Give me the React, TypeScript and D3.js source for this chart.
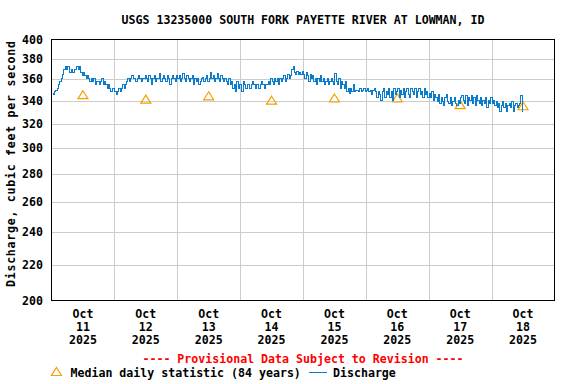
import React, { useEffect } from "react";
import * as d3 from "d3";

const TITLE = "USGS 13235000 SOUTH FORK PAYETTE RIVER AT LOWMAN, ID";
const Y_LABEL = "Discharge, cubic feet per second";
const PROVISIONAL = "---- Provisional Data Subject to Revision ----";
const LEGEND_MEDIAN = "Median daily statistic (84 years)";
const LEGEND_Q = "Discharge";

const yTicks = [200, 220, 240, 260, 280, 300, 320, 340, 360, 380, 400];
const dayLabels = ["11", "12", "13", "14", "15", "16", "17", "18"];
const medianValues = [345, 341, 344, 340, 342, 342, 336, 335];

// Discharge, 30-minute values, starting at midnight each day
const qOct11 = [347, 346, 349, 350, 352, 355, 358, 361, 365, 370, 373, 370, 373, 367, 367, 370, 367, 370, 370, 373, 370, 373, 367, 364, 367, 364, 361, 364, 361, 358, 361, 358, 361, 355, 358, 358, 355, 358, 361, 355, 358, 355, 352, 355, 352, 349, 352, 352];
const qOct12 = [349, 346, 349, 352, 349, 352, 355, 352, 355, 358, 361, 358, 361, 364, 361, 361, 358, 361, 364, 361, 358, 361, 361, 364, 361, 358, 364, 361, 355, 361, 364, 358, 361, 361, 366, 358, 361, 364, 361, 358, 364, 361, 355, 361, 364, 361, 358, 364];
const qOct13 = [361, 364, 358, 361, 366, 361, 358, 364, 361, 358, 361, 364, 355, 361, 358, 361, 355, 358, 361, 362, 358, 361, 364, 358, 361, 367, 361, 364, 358, 361, 366, 361, 358, 364, 361, 358, 361, 358, 355, 361, 355, 358, 352, 355, 349, 358, 352, 355];
const qOct14 = [355, 349, 358, 355, 352, 355, 355, 352, 355, 358, 355, 352, 355, 355, 352, 355, 358, 355, 352, 355, 355, 358, 355, 361, 358, 355, 361, 358, 361, 355, 361, 358, 361, 364, 358, 361, 365, 361, 364, 370, 373, 367, 365, 368, 365, 367, 365, 368];
const qOct15 = [365, 361, 367, 364, 358, 365, 361, 364, 358, 361, 355, 361, 358, 364, 358, 361, 355, 358, 361, 355, 358, 361, 358, 355, 366, 358, 355, 361, 352, 358, 355, 352, 358, 349, 352, 347, 352, 349, 355, 349, 350, 350, 349, 352, 349, 350, 352, 349];
const qOct16 = [350, 352, 349, 350, 346, 350, 352, 349, 343, 349, 346, 341, 349, 352, 343, 349, 346, 352, 343, 349, 341, 352, 346, 349, 352, 343, 350, 346, 352, 343, 349, 352, 346, 343, 352, 349, 346, 352, 343, 349, 352, 346, 349, 343, 352, 346, 349, 343];
const qOct17 = [347, 343, 349, 341, 346, 343, 340, 346, 338, 343, 340, 336, 343, 346, 340, 338, 343, 336, 340, 343, 338, 336, 341, 338, 343, 345, 341, 338, 345, 336, 343, 341, 345, 338, 343, 336, 345, 341, 338, 343, 336, 341, 338, 343, 334, 341, 338, 343];
const qOct18 = [338, 341, 336, 340, 334, 338, 331, 336, 340, 334, 338, 331, 336, 338, 334, 340, 331, 336, 338, 334, 336, 338, 345, 331];

const W = 576;
const H = 384;
const FONT = "'DejaVu Sans Mono', 'Liberation Mono', monospace";
const FS = 11.6;

export default function App() {
  useEffect(() => {
    document.body.style.margin = "0";
  }, []);

  const start = new Date(2025, 9, 11, 0, 0, 0);
  const end = new Date(2025, 9, 19, 0, 0, 0);
  const left = 51.5, right = 554.5, top = 39.5, bottom = 300.5;

  const x = d3.scaleTime().domain([start, end]).range([left, right]);
  const y = d3.scaleLog().domain([200, 400]).range([bottom, top]);

  const allDays = [qOct11, qOct12, qOct13, qOct14, qOct15, qOct16, qOct17, qOct18];
  const series: { t: Date; v: number }[] = [];
  allDays.forEach((arr, d) => {
    arr.forEach((v, i) => {
      const t = new Date(2025, 9, 11 + d, 0, 0, 0);
      t.setMinutes(i * 30);
      series.push({ t, v });
    });
  });

  const line = d3
    .line<{ t: Date; v: number }>()
    .curve(d3.curveStepAfter)
    .x((d) => Math.round(x(d.t)) + 0.5)
    .y((d) => Math.round(y(d.v)) + 0.5);

  const dayBounds = d3.timeDay.range(new Date(2025, 9, 12), end);
  const noons = dayLabels.map((_, i) => new Date(2025, 9, 11 + i, 12, 0, 0));

  const tri = (cx: number, cy: number) =>
    `M${cx},${cy - 4.5}L${cx + 5},${cy + 3.5}L${cx - 5},${cy + 3.5}Z`;

  const textStyle = { fontFamily: FONT, fontSize: FS, fontWeight: "bold" as const };

  return (
    <svg width={W} height={H} style={{ display: "block", background: "#fff" }}>
      <rect x={0} y={0} width={W} height={H} fill="#fff" />
      <text x={(left + right) / 2} y={24} textAnchor="middle" {...textStyle} fill="#000">
        {TITLE}
      </text>
      {/* grid */}
      {yTicks.slice(1, -1).map((v) => (
        <line key={v} x1={left} x2={right} y1={Math.round(y(v)) + 0.5} y2={Math.round(y(v)) + 0.5} stroke="#cccccc" strokeWidth={1} />
      ))}
      {dayBounds.map((d, i) => (
        <line key={i} x1={Math.round(x(d)) + 0.5} x2={Math.round(x(d)) + 0.5} y1={top} y2={bottom} stroke="#cccccc" strokeWidth={1} />
      ))}
      {/* medians */}
      {medianValues.map((v, i) => (
        <path key={i} d={tri(x(noons[i]), y(v))} fill="none" stroke="#f5a000" strokeWidth={1.2} />
      ))}
      {/* discharge */}
      <path d={line(series) || ""} fill="none" stroke="#0a7ccd" strokeWidth={1} shapeRendering="crispEdges" />
      {/* frame */}
      <rect x={left} y={top} width={right - left} height={bottom - top} fill="none" stroke="#000" strokeWidth={1} />
      {/* y ticks */}
      {yTicks.map((v) => (
        <text key={v} x={43} y={y(v) + 4} textAnchor="end" {...textStyle} fill="#000">
          {v}
        </text>
      ))}
      <text
        transform={`translate(15, 164) rotate(-90)`}
        textAnchor="middle"
        textLength={246}
        lengthAdjust="spacing"
        {...textStyle}
        fill="#000"
      >
        {Y_LABEL}
      </text>
      {/* x labels */}
      {noons.map((d, i) => (
        <g key={i} transform={`translate(${x(d)},0)`} {...textStyle} fill="#000">
          <text x={0} y={318} textAnchor="middle">Oct</text>
          <text x={0} y={331} textAnchor="middle">{dayLabels[i]}</text>
          <text x={0} y={344} textAnchor="middle">2025</text>
        </g>
      ))}
      <text x={(left + right) / 2} y={363} textAnchor="middle" {...textStyle} fill="#ff0000">
        {PROVISIONAL}
      </text>
      {/* legend */}
      <path d={tri(56.5, 372)} fill="none" stroke="#f5a000" strokeWidth={1.2} />
      <text x={70.5} y={377} {...textStyle} fill="#000">{LEGEND_MEDIAN}</text>
      <line x1={309} x2={327} y1={372.5} y2={372.5} stroke="#0a7ccd" strokeWidth={1} />
      <text x={333} y={377} {...textStyle} fill="#000">{LEGEND_Q}</text>
    </svg>
  );
}
